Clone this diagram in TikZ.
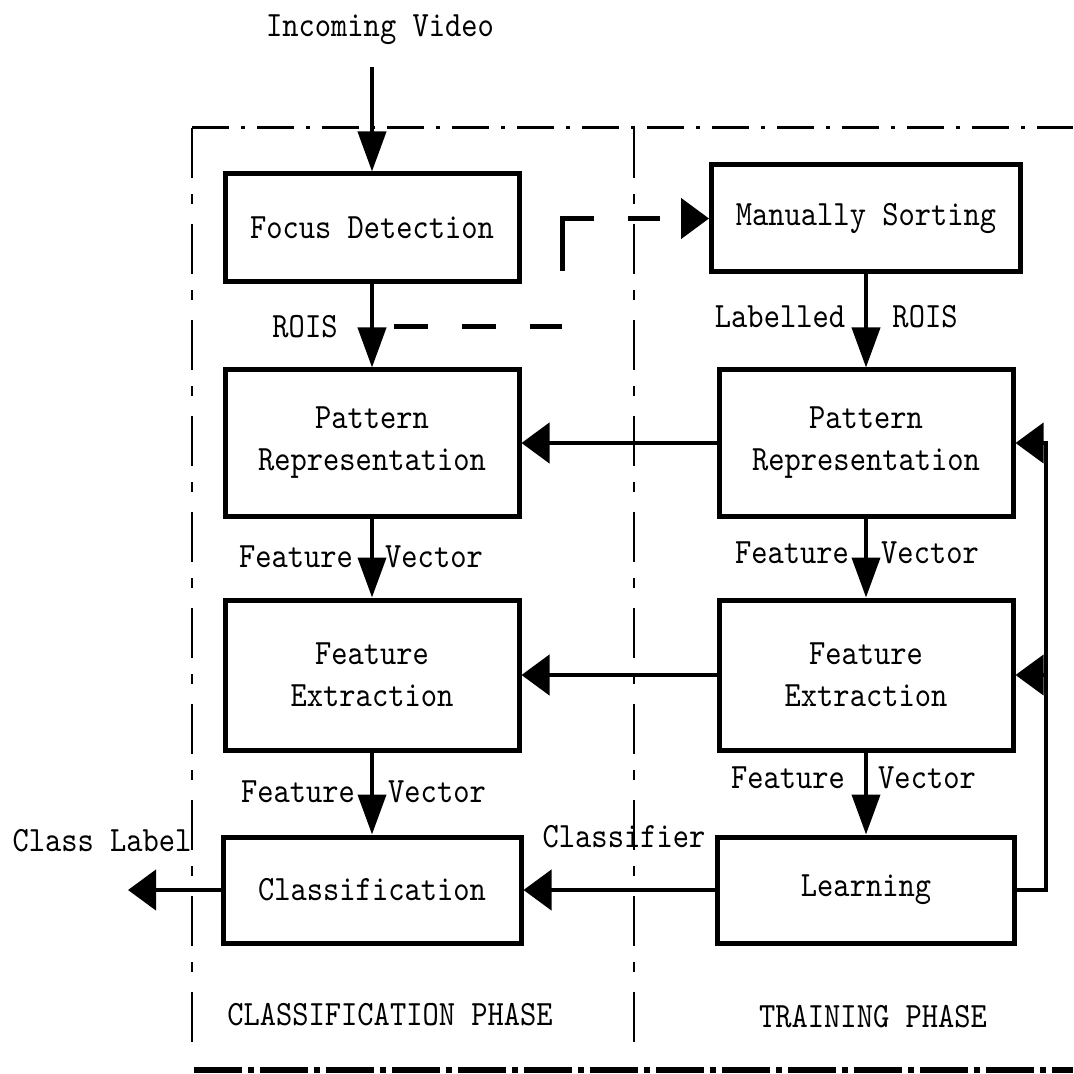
\documentclass[tikz,border=0pt]{standalone}
\usepackage{fontspec}
\newfontfamily\diagfont{lmmono10-regular.otf}[FakeStretch=0.87]
\usetikzlibrary{arrows.meta}

\tikzset{
  stage/.style={draw, line width=2.5pt, minimum width=147pt, align=center, font=\diagfont\fontsize{17.8}{21}\selectfont},
  lbl/.style={inner sep=0pt, font=\diagfont\fontsize{17.8}{21}\selectfont},
  vflow/.style={line width=2pt, -{Triangle[length=20pt,width=14pt]}},
  hflow/.style={line width=2.2pt, -{Triangle[length=14pt,width=20pt]}},
  phase/.style={line width=0.9pt, dash pattern=on 25pt off 8pt on 5pt off 10pt},
}

\begin{document}
\begin{tikzpicture}[x=0.5pt, y=-0.5pt]
  \useasboundingbox (0,0) rectangle (1073,1074);
  \draw[line width=1.5pt, dash pattern=on 18.5pt off 6pt on 2pt off 6pt] (192,128) -- (1073,128);
  \draw[phase] (192,128) -- (192,1053);
  \draw[phase] (634,128) -- (634,1053);
  \draw[line width=3pt, dash pattern=on 24pt off 3pt on 3pt off 3pt] (194,1070) -- (1073,1070);

  \node (video) at (380,30) [lbl] {Incoming Video};
  \coordinate (vin) at (372,67);
  \node (focus) at (372,228) [stage, minimum height=54pt] {Focus Detection};
  \node (patternC) at (372,443) [stage, minimum height=73pt] {Pattern\\Representation};
  \node (featureC) at (372,675) [stage, minimum height=75pt] {Feature\\Extraction};
  \node (classify) at (372,890) [stage, minimum width=149pt, minimum height=53pt] {Classification};
  \coordinate (out) at (128,890);

  \node (sorting) at (866,218.5) [stage, minimum width=154.5pt, minimum height=53.5pt] {Manually Sorting};
  \node (patternT) at (866,443) [stage, minimum height=73pt] {Pattern\\Representation};
  \node (featureT) at (866,675) [stage, minimum height=75pt] {Feature\\Extraction};
  \node (learning) at (866,890) [stage, minimum width=148.5pt, minimum height=53pt] {Learning};

  \node (roisC) at (305,327) [lbl] {ROIS};
  \node (labelled) at (780,317) [lbl] {Labelled};
  \node (roisT) at (925,317) [lbl] {ROIS};
  \node (featC1) at (296,557) [lbl] {Feature};
  \node (vecC1) at (434,557) [lbl] {Vector};
  \node (featC2) at (298,792) [lbl] {Feature};
  \node (vecC2) at (437,792) [lbl] {Vector};
  \node (featT1) at (792,553) [lbl] {Feature};
  \node (vecT1) at (930,553) [lbl] {Vector};
  \node (featT2) at (788,778) [lbl] {Feature};
  \node (vecT2) at (927,778) [lbl] {Vector};
  \node (classifier) at (624,837) [lbl] {Classifier};
  \node (classlabel) at (102,841) [lbl] {Class Label};
  \node (phaseC) at (390,1015) [lbl] {CLASSIFICATION PHASE};
  \node (phaseT) at (873,1017) [lbl] {TRAINING PHASE};

  \draw[vflow] (vin) -- (focus);
  \draw[vflow] (focus) -- (patternC);
  \draw[vflow] (patternC) -- (featureC);
  \draw[vflow] (featureC) -- (classify);
  \draw[hflow] (classify) -- (out);

  \draw[vflow] (sorting) -- (patternT);
  \draw[vflow] (patternT) -- (featureT);
  \draw[vflow] (featureT) -- (learning);
  \draw[hflow] (patternT) -- (patternC);
  \draw[hflow] (featureT) -- (featureC);
  \draw[hflow] (learning) -- (classify);

  % feedback from learning
  \coordinate (loopB) at (1046,890);
  \coordinate (loopP) at (1046,443);
  \coordinate (loopF) at (1046,675);
  \draw[hflow, line width=2pt] (learning.east) -- (loopB) -- (loopP) -- (patternT.east);
  \draw[hflow, line width=2pt] (loopF) -- (featureT.east);

  % rois sent for manual sorting
  \coordinate (tap) at (372,327);
  \coordinate (bend1) at (562,327);
  \coordinate (bend2) at (562,218.5);
  \draw[hflow, line width=2.5pt, dash pattern=on 0pt off 11pt on 17pt off 17pt on 17pt off 17pt on 16pt off 28pt on 42pt off 17pt on 16pt off 40pt]
    (tap) -- (bend1) -- (bend2) -- (sorting.west);
\end{tikzpicture}
\end{document}
